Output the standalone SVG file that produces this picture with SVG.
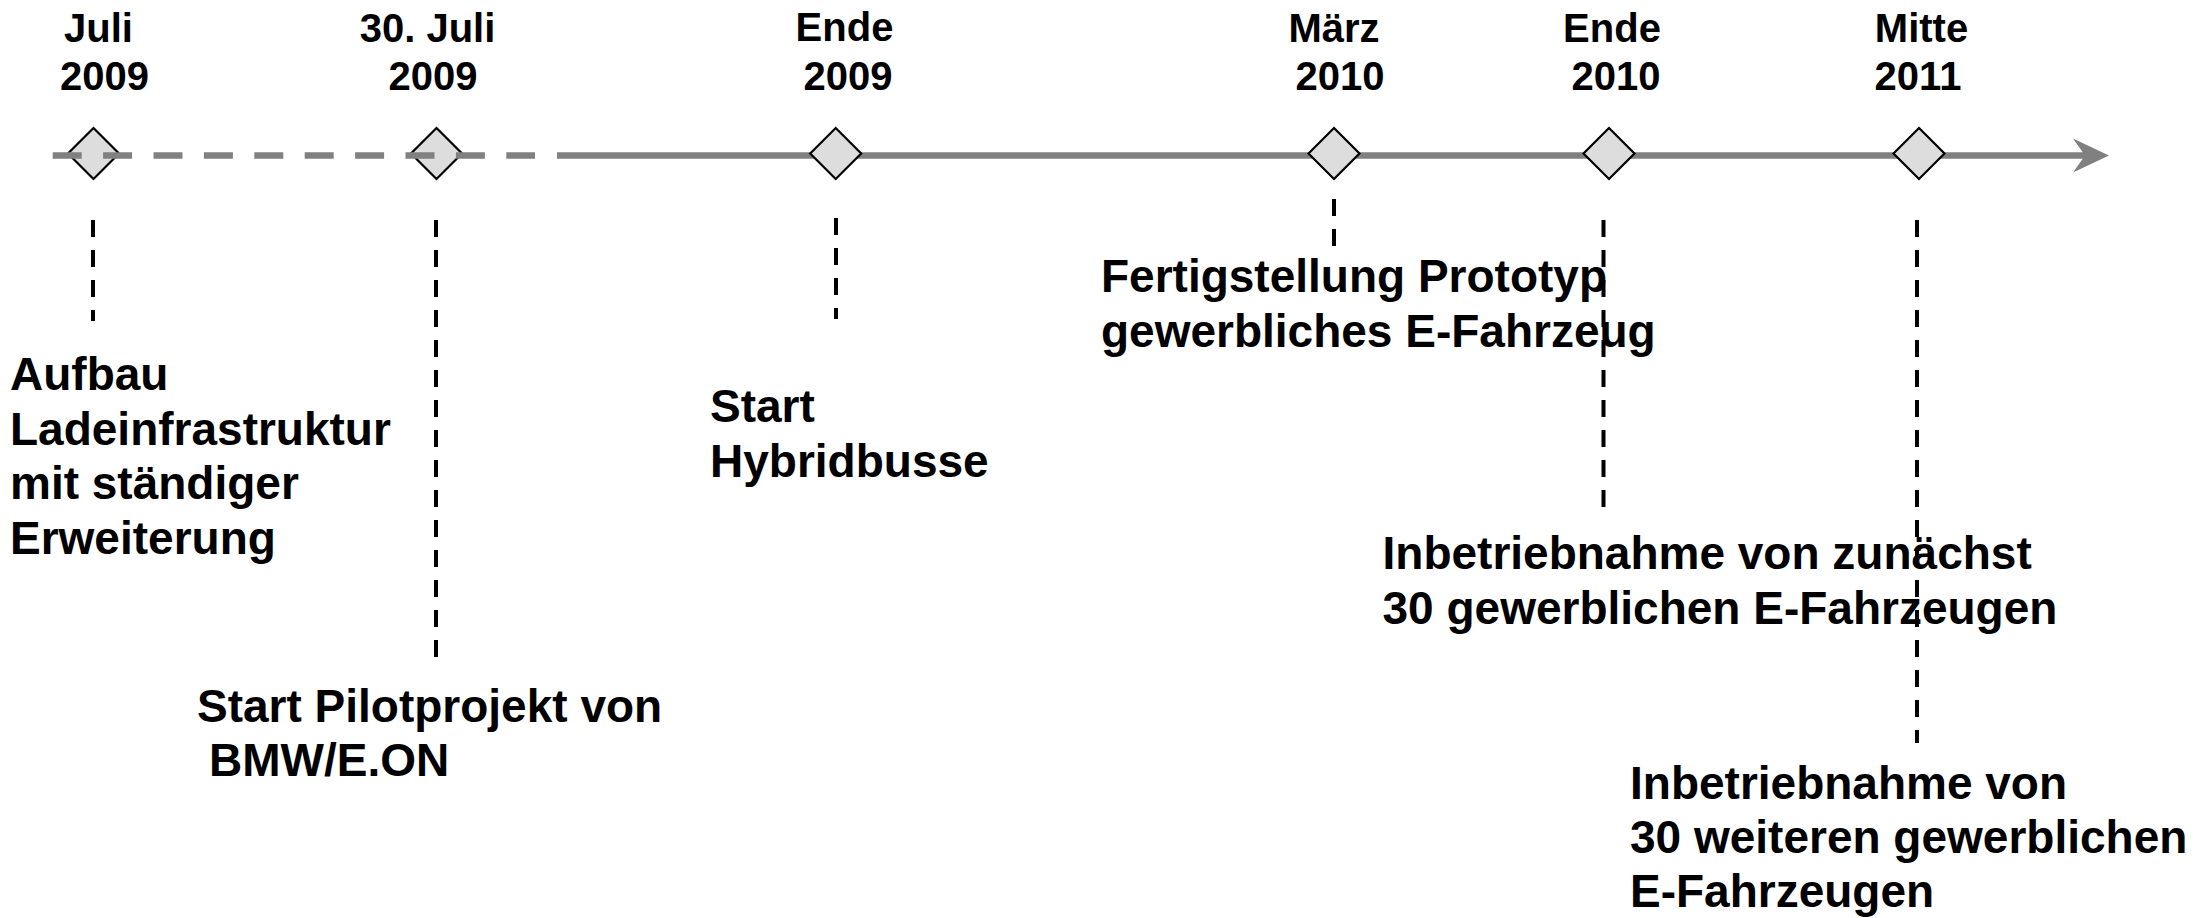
<svg xmlns="http://www.w3.org/2000/svg" width="2204" height="918" viewBox="0 0 2204 918">
<style>
  .date { font-family: "Liberation Sans", Arial, sans-serif; font-weight: bold; font-size: 40px; fill: #000; text-anchor: middle; }
  .lbl { font-family: "Liberation Sans", Arial, sans-serif; font-weight: bold; font-size: 46px; fill: #000; }
  .ms { fill: #dddddd; stroke: #000; stroke-width: 2.2; }
  .axis { stroke: #808080; stroke-width: 6.5; fill: none; }
  .lead { stroke: #000; stroke-width: 4; stroke-dasharray: 17 13; fill: none; }
</style>
<rect width="2204" height="918" fill="#fff"/>

<g id="axis-solid">
  <path class="axis" d="M557 155.5 H2086"/>
  <polygon points="2073,138.5 2109,155.5 2073,172.5 2085,155.5" fill="#808080"/>
</g>

<g id="m1"><polygon class="ms" points="93.5,128 119,153.5 93.5,179 68,153.5"/></g>
<g id="m2"><polygon class="ms" points="436.5,128 462,153.5 436.5,179 411,153.5"/></g>
<g id="m3"><polygon class="ms" points="835.7,128 861.2,153.5 835.7,179 810.2,153.5"/></g>
<g id="m4"><polygon class="ms" points="1334,128 1359.5,153.5 1334,179 1308.5,153.5"/></g>
<g id="m5"><polygon class="ms" points="1609,128 1634.5,153.5 1609,179 1583.5,153.5"/></g>
<g id="m6"><polygon class="ms" points="1919,128 1944.5,153.5 1919,179 1893.5,153.5"/></g>

<g id="axis-dashed">
  <path class="axis" d="M52.7 155.5 H535" stroke-dasharray="29 21.4"/>
</g>

<g id="connectors">
  <path class="lead" d="M93 220 V321"/>
  <path class="lead" d="M436 220 V660"/>
  <path class="lead" d="M836 218 V319"/>
  <path class="lead" d="M1334 199 V248"/>
  <path class="lead" d="M1603.5 220 V509"/>
  <path class="lead" d="M1917 220 V743"/>
</g>

<g id="date1"><text class="date" x="98.5" y="42">Juli</text><text class="date" x="104.5" y="90">2009</text></g>
<g id="date2"><text class="date" x="427.5" y="42">30. Juli</text><text class="date" x="433" y="90">2009</text></g>
<g id="date3"><text class="date" x="844.5" y="41">Ende</text><text class="date" x="848" y="89.5">2009</text></g>
<g id="date4"><text class="date" x="1334" y="41.5">März</text><text class="date" x="1340" y="89.5">2010</text></g>
<g id="date5"><text class="date" x="1612" y="41.5">Ende</text><text class="date" x="1616" y="89.5">2010</text></g>
<g id="date6"><text class="date" x="1921.5" y="41.5">Mitte</text><text class="date" x="1918" y="89.5">2011</text></g>

<g id="label1">
  <text class="lbl" x="10" y="390">Aufbau</text>
  <text class="lbl" x="10" y="444.5">Ladeinfrastruktur</text>
  <text class="lbl" x="10" y="499">mit ständiger</text>
  <text class="lbl" x="10" y="553.5">Erweiterung</text>
</g>
<g id="label2">
  <text class="lbl" x="197" y="721.5">Start Pilotprojekt von</text>
  <text class="lbl" x="209" y="775.5">BMW/E.ON</text>
</g>
<g id="label3">
  <text class="lbl" x="710" y="421.5">Start</text>
  <text class="lbl" x="710" y="476.5">Hybridbusse</text>
</g>
<g id="label4">
  <text class="lbl" x="1101" y="291.5">Fertigstellung Prototyp</text>
  <text class="lbl" x="1101" y="346.5">gewerbliches E-Fahrzeug</text>
</g>
<g id="label5">
  <text class="lbl" x="1382.5" y="569">Inbetriebnahme von zunächst</text>
  <text class="lbl" x="1382.5" y="624">30 gewerblichen E-Fahrzeugen</text>
</g>
<g id="label6">
  <text class="lbl" x="1630" y="799">Inbetriebnahme von</text>
  <text class="lbl" x="1630" y="853">30 weiteren gewerblichen</text>
  <text class="lbl" x="1630" y="907">E-Fahrzeugen</text>
</g>
</svg>
